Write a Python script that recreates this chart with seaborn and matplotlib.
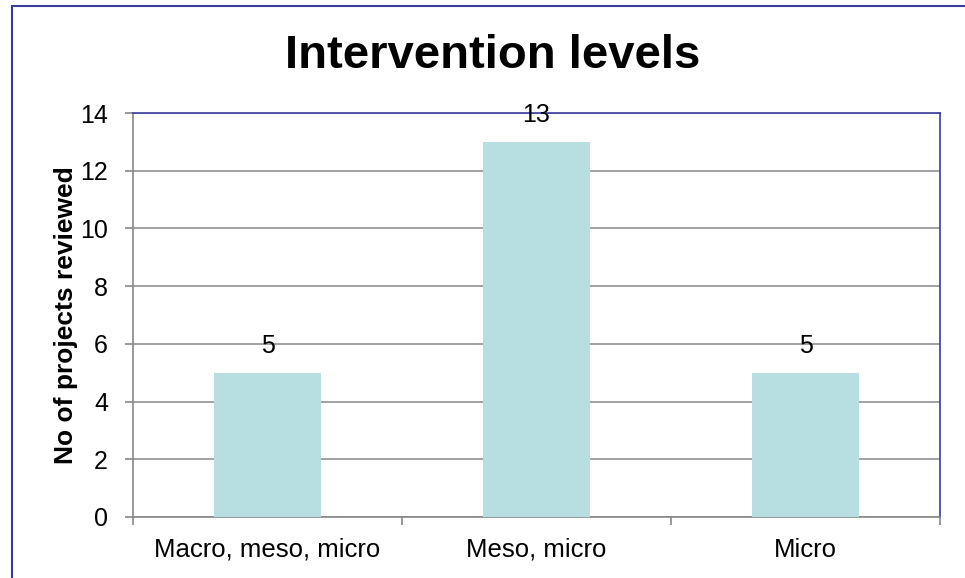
import matplotlib
matplotlib.use("Agg")
import matplotlib.pyplot as plt
from matplotlib.patches import Rectangle
import seaborn as sns
import pandas as pd

categories = ["Macro, meso, micro", "Meso, micro", "Micro"]
projects = [5, 13, 5]
y_ticks = [0, 2, 4, 6, 8, 10, 12, 14]

sns.set_theme(style="white")
plt.rcParams["font.family"] = ["Liberation Sans", "DejaVu Sans"]
plt.rcParams["text.color"] = "black"
plt.rcParams["xtick.color"] = "black"
plt.rcParams["ytick.color"] = "black"
plt.rcParams["axes.labelcolor"] = "black"

df = pd.DataFrame({"level": categories, "count": projects})

fig = plt.figure(figsize=(9.65, 5.78), dpi=100)
ax = fig.add_axes([133 / 965, 1 - 517 / 578, (940 - 133) / 965, (517 - 113) / 578])

sns.barplot(data=df, x="level", y="count", color="#B7DFE2", saturation=1,
            width=0.4, linewidth=0, ax=ax, zorder=3)

ax.set_xlim(-0.5, len(categories) - 0.5)
ax.set_ylim(0, 14)
ax.set_yticks(y_ticks)
ax.tick_params(axis="y", labelsize=18, length=6, width=1.2, color="#888888",
               direction="out", left=True, pad=12, labelcolor="black")
ax.set_xticks(range(len(categories)))
ax.set_xticklabels(categories)
ax.tick_params(axis="x", which="major", length=0, labelsize=18.5, pad=15,
               labelcolor="black")
ax.set_xticks([i - 0.5 for i in range(len(categories) + 1)], minor=True)
ax.tick_params(axis="x", which="minor", length=6, width=1.2, color="#888888",
               direction="out", bottom=True)

ax.yaxis.grid(True, color="#888888", linewidth=1.1, zorder=0)
ax.set_axisbelow(True)

for side in ("left", "bottom"):
    ax.spines[side].set_color("#888888")
    ax.spines[side].set_linewidth(1.2)
for side in ("top", "right"):
    ax.spines[side].set_color("#3A3D9E")
    ax.spines[side].set_linewidth(1.2)

for patch, val in zip(ax.patches, projects):
    ax.annotate(str(val), (patch.get_x() + patch.get_width() / 2, val),
                xytext=(0, 19), textcoords="offset points",
                ha="center", va="center", fontsize=18, color="black")

ax.set_xlabel("")
ax.set_ylabel("No of projects reviewed", fontsize=19, fontweight="bold",
              color="black")
ax.yaxis.set_label_coords(-(133 - 78) / (940 - 133), 0.5)

fig.text(493 / 965, 1 - 56 / 578, "Intervention levels", ha="center", va="center",
         fontsize=34, fontweight="bold", color="black")

fig.patches.append(Rectangle((12 / 965, -0.1), 1.2, 1.1 - 6 / 578,
                             transform=fig.transFigure, fill=False,
                             edgecolor="#3A3D9E", linewidth=1.5))

fig.savefig("out.png", dpi=100, facecolor="white")
